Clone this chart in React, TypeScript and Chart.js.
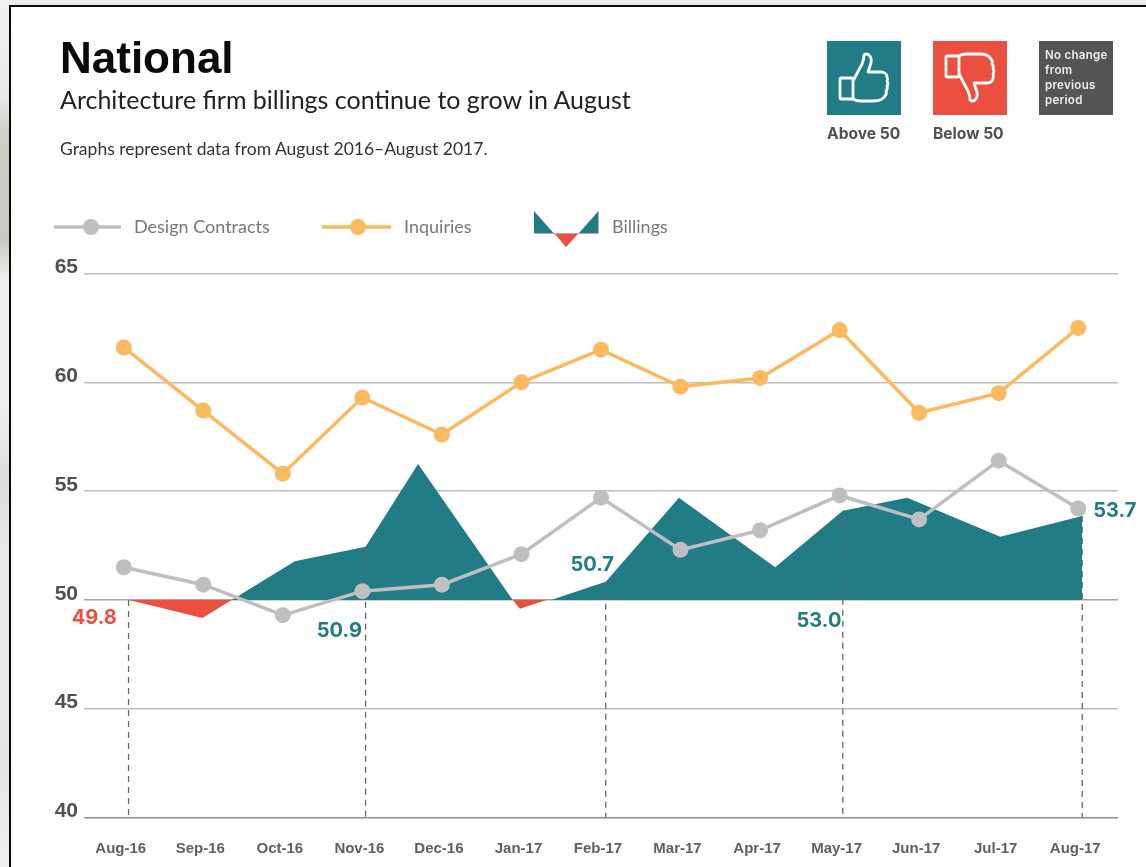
import React, { useEffect, useRef } from "react";
import { Chart, registerables } from "chart.js";

Chart.register(...registerables);

const months = ["Aug-16", "Sep-16", "Oct-16", "Nov-16", "Dec-16", "Jan-17", "Feb-17", "Mar-17", "Apr-17", "May-17", "Jun-17", "Jul-17", "Aug-17"];
const inquiries = [61.6, 58.7, 55.8, 59.3, 57.6, 60.0, 61.5, 59.8, 60.2, 62.4, 58.6, 59.5, 62.5];
const designContracts = [51.5, 50.7, 49.3, 50.4, 50.7, 52.1, 54.7, 52.3, 53.2, 54.8, 53.7, 56.4, 54.2];

const billingMonths = [0.06, 0.99, 2.15, 3.04, 3.7, 4.89, 4.98, 5.32, 5.37, 6.06, 6.98, 8.19, 9.04, 9.85, 11.02, 12.05];
const billingValues = [50, 49.17, 51.78, 52.44, 56.25, 50, 49.59, 50, 50, 50.83, 54.69, 51.5, 54.1, 54.7, 52.9, 53.86];

const dropMonths = [0.06, 3.04, 6.06, 9.04, 12.05];
const dropValues = [50, 52.44, 50.83, 54.1, 53.86];

const calloutText = ["49.8", "50.9", "50.7", "53.0", "53.7"];
const calloutMonths = [-0.37, 2.71, 5.89, 8.74, 12.46];
const calloutLevels = [49.15, 48.58, 51.6, 49.04, 54.09];
const calloutColors = ["#ea4f3f", "#217c86", "#217c86", "#217c86", "#217c86"];

const TEAL = "#217c86";
const RED = "#ea4f3f";
const ORANGE = "#fdb95f";
const GREY = "#c0bfbf";
const TEXT = "#505050";

const calloutPlugin = {
  id: "callouts",
  afterDatasetsDraw(chart: any) {
    const { ctx, scales } = chart;
    ctx.save();
    ctx.font = "700 20px Inter";
    ctx.textAlign = "center";
    ctx.textBaseline = "middle";
    calloutText.forEach((t, i) => {
      ctx.fillStyle = calloutColors[i];
      ctx.fillText(t, scales.x.getPixelForValue(calloutMonths[i]), scales.y.getPixelForValue(calloutLevels[i]));
    });
    ctx.restore();
  },
};

const abs = (left: number, top: number, extra: any = {}): any => ({ position: "absolute", left, top, whiteSpace: "nowrap", ...extra });

const ThumbPath = () => (
  <>
    <rect x="13" y="37" width="13" height="21" rx="1.5" fill="none" stroke="#fff" strokeWidth="2.8" />
    <path
      d="M26 40 L35 23 Q37 18 37 14 Q39 12 42 14 Q45 17 44 22 L41 31 L55 31 Q60 32 60 36 Q61 38 60 40 Q62 43 60 45 Q61 48 59 50 Q60 53 58 55 Q55 60 47 60 L33 60 Q29 60 26 58"
      fill="none"
      stroke="#fff"
      strokeWidth="2.8"
      strokeLinejoin="round"
    />
  </>
);

const legendLabel = { fontFamily: "Lato", fontSize: 18, color: "#777" };
const leftStrip =
  "linear-gradient(to bottom, #f0f0ee 0px, #e8e8e6 100px, #cfcfca 130px, #c8c8c4 240px, #efefed 280px, #efefed 400px, #dcdcda 480px, #e8e8e6 560px, #e8e8e6 700px, #e2e2e0 760px, #efefef 867px)";

export default function App() {
  const ref = useRef<HTMLCanvasElement | null>(null);

  useEffect(() => {
    const chart = new Chart(ref.current as HTMLCanvasElement, {
      type: "line",
      plugins: [calloutPlugin],
      data: {
        datasets: [
          {
            label: "Inquiries",
            data: inquiries.map((y, x) => ({ x, y })),
            borderColor: ORANGE,
            backgroundColor: ORANGE,
            borderWidth: 3.5,
            pointRadius: 8,
            pointBorderWidth: 0,
            order: 1,
          },
          {
            label: "Design Contracts",
            data: designContracts.map((y, x) => ({ x, y })),
            borderColor: GREY,
            backgroundColor: GREY,
            borderWidth: 3.5,
            pointRadius: 8,
            pointBorderWidth: 0,
            order: 2,
          },
          ...dropMonths.map((x, i) => ({
            label: "drop" + i,
            data: [
              { x, y: dropValues[i] },
              { x, y: 40 },
            ],
            borderColor: "#666666",
            borderWidth: 1.3,
            borderDash: [6, 5],
            pointRadius: 0,
            order: 3,
          })),
          {
            label: "Billings",
            data: billingMonths.map((x, i) => ({ x, y: billingValues[i] })),
            borderWidth: 0,
            borderColor: "transparent",
            pointRadius: 0,
            fill: { target: { value: 50 }, above: TEAL, below: RED },
            order: 4,
          },
        ],
      },
      options: {
        animation: false,
        responsive: false,
        layout: { autoPadding: false, padding: { top: 273.5, right: 28, left: 0, bottom: 0 } },
        plugins: { legend: { display: false }, tooltip: { enabled: false } },
        scales: {
          x: {
            type: "linear",
            min: -0.5,
            max: 12.5,
            afterFit: (s: any) => { s.height = 49.5; },
            afterBuildTicks: (s: any) => { s.ticks = months.map((_, value) => ({ value })); },
            grid: { display: false, drawTicks: false },
            border: { display: false },
            ticks: {
              autoSkip: false,
              maxRotation: 0,
              padding: 22,
              labelOffset: -3,
              color: "#606060",
              font: { family: "Liberation Sans", weight: "bold", size: 15 },
              callback: (v: any) => months[v],
            },
          },
          y: {
            type: "linear",
            min: 40,
            max: 65,
            afterFit: (s: any) => { s.width = 84; },
            grid: {
              drawTicks: false,
              lineWidth: 1.5,
              color: (c: any) => (c.tick.value === 40 ? "#8f8f8f" : c.tick.value === 50 ? "#a5a5a5" : "#bdbdbd"),
            },
            border: { display: false },
            ticks: {
              stepSize: 5,
              padding: 6,
              labelOffset: -6,
              color: TEXT,
              font: { family: "Liberation Sans", weight: "bold", size: 21 },
            },
          },
        },
      },
    } as any);
    return () => chart.destroy();
  }, []);

  return (
    <div style={{ position: "absolute", left: 0, top: 0, width: 1146, height: 867, overflow: "hidden", background: "#ececea" }}>
      <div style={{ position: "absolute", left: 0, top: 0, width: 9, height: 867, background: leftStrip }} />
      <div style={{ position: "absolute", left: 9, top: 5, width: 1146, height: 867, background: "#fff", borderLeft: "2px solid #0a0a0a", borderTop: "2px solid #0a0a0a" }} />
      <canvas ref={ref} width={1146} height={867} style={{ position: "absolute", left: 0, top: 0, display: "block" }} />

      <div style={abs(60, 33, { fontFamily: "Liberation Sans", fontWeight: 700, fontSize: 44, lineHeight: "50px", color: "#0a0a0a" })}>National</div>
      <div style={abs(60, 84, { fontFamily: "Lato", fontSize: 25, lineHeight: "30px", color: "#222" })}>Architecture firm billings continue to grow in August</div>
      <div style={abs(60, 138, { fontFamily: "Lato", fontSize: 17.5, lineHeight: "22px", color: "#333" })}>Graphs represent data from August 2016–August 2017.</div>

      <svg style={abs(0, 200)} width={700} height={60}>
        <line x1={54} x2={121} y1={27} y2={27} stroke={GREY} strokeWidth={3.5} />
        <circle cx={91} cy={27} r={8} fill={GREY} />
        <line x1={322} x2={391} y1={27} y2={27} stroke={ORANGE} strokeWidth={3.5} />
        <circle cx={358} cy={27} r={8} fill={ORANGE} />
        <polygon points="534,11 534,33 553.5,33" fill={TEAL} />
        <polygon points="598.5,11 598.5,33 579,33" fill={TEAL} />
        <line x1={534} x2={598.5} y1={33.5} y2={33.5} stroke="#aaa" strokeWidth={1} />
        <polygon points="555,34 578,34 566,47" fill={RED} />
      </svg>
      <div style={abs(134, 214, { ...legendLabel, lineHeight: "24px" })}>Design Contracts</div>
      <div style={abs(404, 214, { ...legendLabel, lineHeight: "24px" })}>Inquiries</div>
      <div style={abs(612, 214, { ...legendLabel, lineHeight: "24px" })}>Billings</div>

      <svg style={abs(827, 41)} width={74} height={74} viewBox="0 0 74 74">
        <rect width={74} height={74} fill={TEAL} />
        <ThumbPath />
      </svg>
      <svg style={abs(933, 41)} width={74} height={74} viewBox="0 0 74 74">
        <rect width={74} height={74} fill={RED} />
        <g transform="translate(0 73) scale(1 -1)">
          <ThumbPath />
        </g>
      </svg>
      <div style={abs(1039, 41, { width: 74, height: 74, background: "#555" })} />
      <div style={abs(1045, 48, { fontFamily: "Inter", fontWeight: 600, fontSize: 11.5, lineHeight: "15px", color: "#eee", letterSpacing: 0.3 })}>
        No change<br />from<br />previous<br />period
      </div>
      <div style={abs(827, 124, { fontFamily: "Inter", fontWeight: 700, fontSize: 15.6, lineHeight: "20px", color: TEXT })}>Above 50</div>
      <div style={abs(933, 124, { fontFamily: "Inter", fontWeight: 700, fontSize: 15.6, lineHeight: "20px", color: TEXT })}>Below 50</div>
    </div>
  );
}
